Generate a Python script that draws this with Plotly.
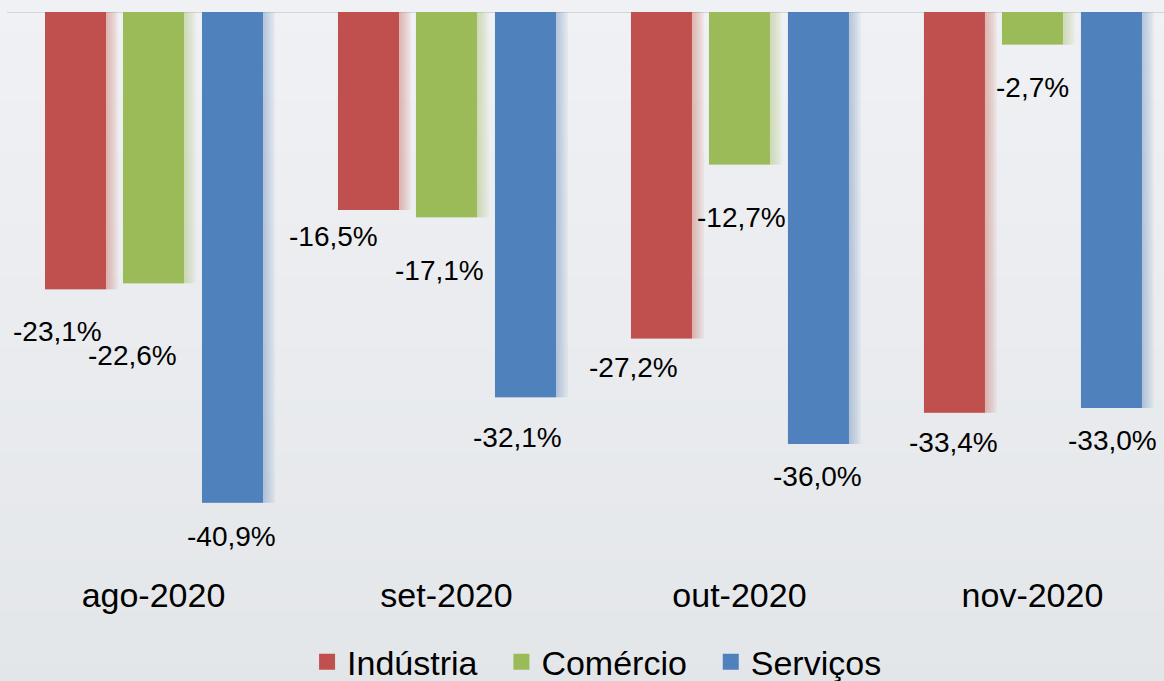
import plotly.graph_objects as go

# dados (variação % em relação ao mesmo mês do ano anterior)
meses = ["ago-2020", "set-2020", "out-2020", "nov-2020"]
industria = [-23.1, -16.5, -27.2, -33.4]
comercio = [-22.6, -17.1, -12.7, -2.7]
servicos = [-40.9, -32.1, -36.0, -33.0]

series = [
    ("Indústria", industria, (192, 80, 77)),
    ("Comércio", comercio, (155, 187, 89)),
    ("Serviços", servicos, (79, 129, 189)),
]

# deslocamento (px) de cada rótulo em relação ao fim da barra, como no original
label_shift = {
    "Indústria": [(-18, 42), (-35, 27), (-28, 29), (-1, 30)],
    "Comércio": [(-21, 72), (-7, 53), (2, 53), (0, 43)],
    "Serviços": [(-1, 34), (-8, 40), (-1, 33), (1, 33)],
}
slot_px = [-78, 0, 79]
legend_pad = ["\u00a0\u00a0", "\u00a0\u00a0", ""]

font = "Liberation Sans, Arial, sans-serif"
px_unit = 1 / 293  # largura de 1 px em unidades de categoria
bar_w = 61 * px_unit

fig = go.Figure()

# sombras suaves à direita das barras
for k, (name, vals, rgb) in enumerate(series):
    for j in range(1, 7):
        fig.add_trace(go.Bar(
            x=meses, y=vals,
            offset=slot_px[k] * px_unit - bar_w / 2,
            width=bar_w + 2 * j * px_unit,
            marker=dict(color="rgba(%d,%d,%d,0.07)" % rgb, line=dict(width=0)),
            showlegend=False, hoverinfo="skip",
        ))

for k, (name, vals, rgb) in enumerate(series):
    color = "rgb(%d,%d,%d)" % rgb
    fig.add_trace(go.Bar(
        x=meses, y=vals, name=name,
        offset=slot_px[k] * px_unit - bar_w / 2, width=bar_w,
        marker=dict(color=color, line=dict(width=0)),
        showlegend=False,
    ))
    # entrada da legenda com quadrado maior
    fig.add_trace(go.Scatter(
        x=[None], y=[None], mode="markers", name=name + legend_pad[k],
        marker=dict(symbol="square", size=16, color=color),
    ))

annotations = []
for k, (name, vals, rgb) in enumerate(series):
    for i, v in enumerate(vals):
        dx, dy = label_shift[name][i]
        annotations.append(dict(
            x=meses[i], y=v, xref="x", yref="y",
            text=f"{v:.1f}%".replace(".", ","),
            showarrow=False, xanchor="center", yanchor="middle",
            xshift=slot_px[k] + dx, yshift=-dy,
            font=dict(family=font, size=28, color="#000000"),
        ))

# fundo em degradê suave
shapes = []
n = 40
c0 = (240, 241, 244)
c1 = (227, 230, 233)
for j in range(n):
    t = j / (n - 1)
    col = tuple(round(a + (b - a) * t) for a, b in zip(c0, c1))
    shapes.append(dict(
        type="rect", xref="paper", yref="paper", layer="below",
        x0=-0.01, x1=1.01, y0=1.03 - (j + 1) * 1.25 / n, y1=1.03 - j * 1.25 / n,
        fillcolor="rgb(%d,%d,%d)" % col, line=dict(width=0),
    ))
# linha do zero
shapes.append(dict(
    type="line", xref="paper", yref="y", x0=0, x1=1, y0=0, y1=0,
    line=dict(color="#d3d5d8", width=2), layer="below",
))

fig.update_layout(
    width=1164, height=681,
    margin=dict(l=7, r=0, t=12, b=106, autoexpand=False),
    paper_bgcolor="#eceef1",
    plot_bgcolor="rgba(0,0,0,0)",
    barmode="overlay",
    shapes=shapes,
    annotations=annotations,
    showlegend=True,
    legend=dict(
        orientation="h", x=0.510, xanchor="center", y=-0.155, yanchor="middle",
        font=dict(family=font, size=34, color="#000000"),
        bgcolor="rgba(0,0,0,0)",
    ),
    xaxis=dict(
        range=[-0.5, 3.449], showgrid=False, zeroline=False, showline=False,
        tickfont=dict(family=font, size=34, color="#000000"), ticks="",
        ticklabelstandoff=-3,
    ),
    yaxis=dict(
        range=[-46.92, 0], showgrid=False, zeroline=False, showline=False,
        showticklabels=False, ticks="",
    ),
)

fig.write_html("out.html", config={"displayModeBar": False},
               post_script="document.body.style.margin='0';")
